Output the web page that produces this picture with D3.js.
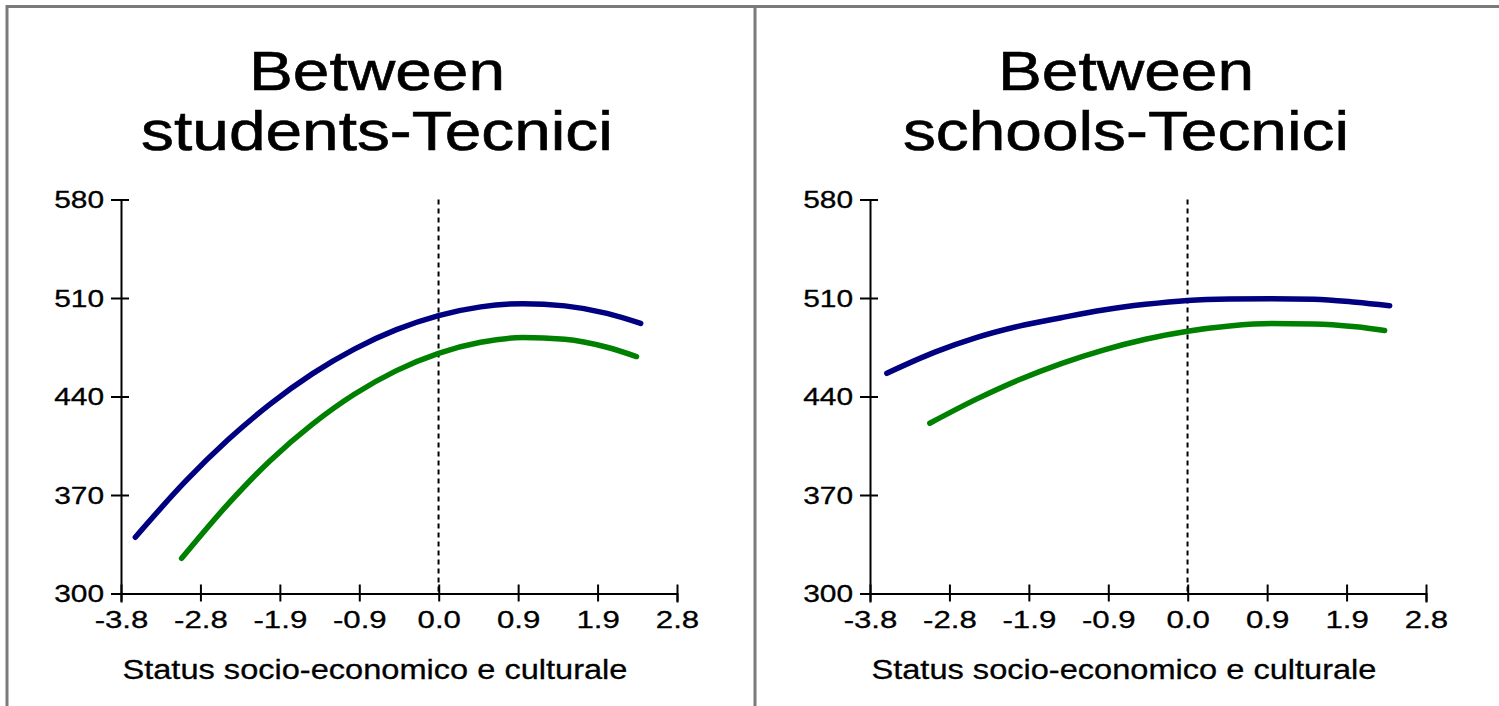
<!DOCTYPE html>
<html>
<head>
<meta charset="utf-8">
<script src="https://cdn.jsdelivr.net/npm/d3@7"></script>
<style>
  html, body { margin: 0; padding: 0; background: #fff; }
  svg { display: block; }
  text { font-family: "Liberation Sans", Arial, sans-serif; fill: #000; }
</style>
</head>
<body>
<svg id="chart" width="1499" height="706"></svg>
<script>
// ---------------- data ----------------
const panelTitles = [["Between", "students-Tecnici"], ["Between", "schools-Tecnici"]];
const xAxisTitle = "Status socio-economico e culturale";
const xTickValues = [-3.77, -2.827, -1.884, -0.941, 0.002, 0.945, 1.888, 2.831];
const xTickLabels = ["-3.8", "-2.8", "-1.9", "-0.9", "0.0", "0.9", "1.9", "2.8"];
const yTickValues = [300, 370, 440, 510, 580];
const yTickLabels = ["300", "370", "440", "510", "580"];

// left panel: Between students-Tecnici
const studentsX_blue  = [-3.6, -3.0, -2.5, -2.0, -1.5, -1.0, -0.5, 0.0, 0.5, 1.0, 1.5, 2.0, 2.4];
const studentsY_blue  = [340.0, 380.0, 409.2, 434.6, 456.1, 473.7, 487.5, 497.5, 503.7, 506.0, 504.4, 499.1, 492.0];
const studentsX_green = [-3.05, -2.5, -2.0, -1.5, -1.0, -0.5, 0.0, 0.5, 1.0, 1.5, 2.0, 2.35];
const studentsY_green = [325.0, 363.5, 394.4, 420.2, 441.6, 458.4, 470.7, 478.5, 481.9, 480.7, 475.0, 468.4];

// right panel: Between schools-Tecnici
const schoolsX_blue  = [-3.57, -3.0, -2.5, -2.0, -1.5, -1.0, -0.5, 0.0, 0.5, 1.0, 1.5, 2.0, 2.4];
const schoolsY_blue  = [456.5, 471.5, 482.0, 490.0, 496.0, 501.5, 505.5, 508.3, 509.3, 509.5, 509.2, 507.0, 504.5];
const schoolsX_green = [-3.06, -2.5, -2.0, -1.5, -1.0, -0.5, 0.0, 0.5, 1.0, 1.5, 2.0, 2.34];
const schoolsY_green = [421.0, 438.3, 451.9, 463.4, 473.0, 480.7, 486.4, 490.1, 491.8, 491.6, 489.5, 486.9];

const seriesColors = ["#000080", "#008000"];

// ---------------- layout ----------------
const svg = d3.select("#chart");
const panels = [
  { ox: 0,   titles: panelTitles[0],
    series: [[studentsX_blue, studentsY_blue], [studentsX_green, studentsY_green]] },
  { ox: 749, titles: panelTitles[1],
    series: [[schoolsX_blue, schoolsY_blue], [schoolsX_green, schoolsY_green]] }
];

function stretch(sel, k) {
  sel.each(function () {
    const L = this.getComputedTextLength();
    d3.select(this).attr("textLength", L * k).attr("lengthAdjust", "spacingAndGlyphs");
  });
}

// frame
svg.append("rect").attr("width", 1499).attr("height", 706).attr("fill", "#fff");
svg.append("line").attr("x1", 6).attr("x2", 1499).attr("y1", 6.5).attr("y2", 6.5)
  .attr("stroke", "#7a7a7a").attr("stroke-width", 3);
svg.append("line").attr("x1", 7).attr("x2", 7).attr("y1", 5).attr("y2", 706)
  .attr("stroke", "#7a7a7a").attr("stroke-width", 3);
svg.append("line").attr("x1", 755).attr("x2", 755).attr("y1", 5).attr("y2", 706)
  .attr("stroke", "#7a7a7a").attr("stroke-width", 3);

panels.forEach(p => {
  const g = svg.append("g").attr("transform", `translate(${p.ox},0)`);
  const x = d3.scaleLinear().domain([xTickValues[0], xTickValues[xTickValues.length - 1]]).range([121, 677]);
  const y = d3.scaleLinear().domain([300, 580]).range([593.5, 199.5]);
  const cx = 377;

  // title
  const t = g.append("text").attr("text-anchor", "middle").style("font-size", "56px")
    .attr("stroke", "#000").attr("stroke-width", 0.6);
  t.append("tspan").attr("x", cx).attr("y", 90).text(p.titles[0]);
  t.append("tspan").attr("x", cx).attr("y", 150).text(p.titles[1]);
  stretch(t.selectAll("tspan"), 1.175);

  // y axis
  const ya = g.append("g").attr("transform", `translate(${x.range()[0]},0)`)
    .call(d3.axisLeft(y).tickValues(yTickValues).tickFormat((d, i) => yTickLabels[i]).tickSizeOuter(0).tickSize(10));
  ya.select(".domain").attr("stroke", "#000").attr("stroke-width", 2);
  ya.selectAll(".tick line").attr("x1", 8).attr("x2", -10).attr("stroke", "#000").attr("stroke-width", 2);
  ya.selectAll(".tick text").attr("x", -17).attr("dy", "0.36em").style("font-size", "23px")
    .attr("fill", "#000").attr("stroke", "#000").attr("stroke-width", 0.3);
  stretch(ya.selectAll(".tick text"), 1.3);

  // x axis
  const xa = g.append("g").attr("transform", `translate(0,${y.range()[0]})`)
    .call(d3.axisBottom(x).tickValues(xTickValues).tickFormat((d, i) => xTickLabels[i]).tickSizeOuter(0).tickSize(9));
  xa.select(".domain").attr("stroke", "#000").attr("stroke-width", 2);
  xa.selectAll(".tick line").attr("y1", -9).attr("y2", 8).attr("stroke", "#000").attr("stroke-width", 2);
  xa.selectAll(".tick text").attr("y", 34.5).attr("dy", null).style("font-size", "24px")
    .attr("fill", "#000").attr("stroke", "#000").attr("stroke-width", 0.3);
  stretch(xa.selectAll(".tick text"), 1.3);

  // axis title
  const at = g.append("text").attr("text-anchor", "middle").attr("x", cx - 2).attr("y", 679)
    .style("font-size", "27px").attr("stroke", "#000").attr("stroke-width", 0.3).text(xAxisTitle);
  stretch(at, 1.206);

  // zero reference line
  g.append("line").attr("x1", x(0)).attr("x2", x(0)).attr("y1", y(580)).attr("y2", y(300))
    .attr("stroke", "#000").attr("stroke-width", 2).attr("stroke-dasharray", "5,4");

  // series
  const line = d3.line().x(d => x(d[0])).y(d => y(d[1])).curve(d3.curveMonotoneX);
  p.series.forEach((s, i) => {
    const pts = s[0].map((xv, j) => [xv, s[1][j]]);
    g.append("path").datum(pts).attr("d", line).attr("fill", "none")
      .attr("stroke", seriesColors[i]).attr("stroke-width", 5.5).attr("stroke-linecap", "round");
  });
});
</script>
</body>
</html>
